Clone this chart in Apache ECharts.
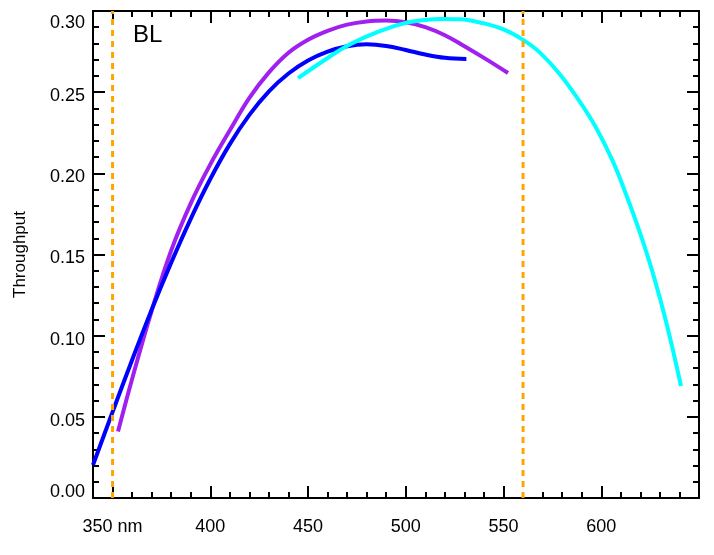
<!DOCTYPE html>
<html>
<head>
<meta charset="utf-8">
<script src="https://cdn.jsdelivr.net/npm/echarts@6/dist/echarts.min.js"></script>
<style>
html,body{margin:0;padding:0;background:#fff;}
#chart{width:714px;height:555px;}
</style>
</head>
<body>
<div id="chart"></div>
<script>
// wavelengths (nm) and throughputs
const blueX   = [340, 350, 360, 370, 380, 390, 400, 410, 420, 430, 440, 450, 460, 470, 480, 490, 500, 510, 520, 531];
const blueY   = [0.0203, 0.0530, 0.0850, 0.1160, 0.1450, 0.1720, 0.1965, 0.2180, 0.2360, 0.2505, 0.2615, 0.2695, 0.2750, 0.2783, 0.2795, 0.2785, 0.2760, 0.2732, 0.2712, 0.2705];
const purpleX = [352.8, 360, 370, 380, 390, 400, 410, 420, 430, 440, 450, 460, 470, 480, 490, 500, 510, 520, 530, 540, 552.3];
const purpleY = [0.0409, 0.0733, 0.1153, 0.1525, 0.1815, 0.2055, 0.2265, 0.2465, 0.2622, 0.2743, 0.2823, 0.2878, 0.2916, 0.2936, 0.2941, 0.2931, 0.2901, 0.2851, 0.2783, 0.2711, 0.2618];
const cyanX   = [444.9, 456, 467.9, 479.8, 491.8, 503.7, 517.3, 527.6, 539.5, 550.3, 560, 568.5, 578.7, 589, 597.5, 606, 612.8, 619.6, 626.4, 633.3, 640.8];
const cyanY   = [0.2586, 0.2678, 0.2771, 0.2842, 0.2898, 0.2935, 0.2951, 0.2949, 0.2925, 0.2885, 0.2822, 0.2745, 0.2612, 0.2442, 0.2278, 0.2072, 0.1867, 0.1641, 0.1385, 0.1080, 0.0690];
const limitLines = [350, 560];
const xMajorTicks = [350, 400, 450, 500, 550, 600];
const xTickLabels = ['350 nm', '400', '450', '500', '550', '600'];
const yTickLabels = ['0.00', '0.05', '0.10', '0.15', '0.20', '0.25', '0.30'];
const panelLabel = 'BL';
const yTitle = 'Throughput';

const FONT = "'Liberation Sans', Arial, Helvetica, sans-serif";
const X_MIN = 340, X_MAX = 650, Y_MIN = 0, Y_MAX = 0.30;

function zip(xs, ys) { return xs.map((x, i) => [x, ys[i]]); }

const black = { color: '#000', width: 2 };

function xAxisMajor(pos, showLabel) {
  return {
    type: 'value', position: pos, min: X_MIN, max: X_MAX, interval: 10,
    axisLine: { show: true, onZero: false, lineStyle: black },
    axisTick: { show: true, inside: true, length: 12, lineStyle: black, customValues: xMajorTicks },
    axisLabel: {
      show: showLabel, customValues: xMajorTicks, margin: 20,
      fontSize: 18, fontFamily: FONT, color: '#000',
      formatter: v => { const i = xMajorTicks.indexOf(Math.round(v)); return i >= 0 ? xTickLabels[i] : ''; }
    },
    splitLine: { show: false }
  };
}
function xAxisMinor(pos) {
  return {
    type: 'value', position: pos, min: X_MIN, max: X_MAX, interval: 10,
    axisLine: { show: false, onZero: false },
    axisTick: { show: true, inside: true, length: 6, lineStyle: black },
    axisLabel: { show: false },
    splitLine: { show: false }
  };
}
function yAxisDef(pos, showLabel) {
  const rs = { fontSize: 18, fontFamily: FONT, color: '#000' };
  return {
    type: 'value', position: pos, min: Y_MIN, max: Y_MAX, interval: 0.05,
    axisLine: { show: true, onZero: false, lineStyle: black },
    axisTick: { show: true, inside: true, length: 12, lineStyle: black },
    minorTick: { show: true, splitNumber: 5, length: 6, lineStyle: black },
    axisLabel: {
      show: showLabel, margin: 8, fontSize: 18, fontFamily: FONT, color: '#000',
      formatter: v => {
        const i = Math.round(v / 0.05);
        const s = yTickLabels[i];
        if (i === yTickLabels.length - 1) return '{t|' + s + '}';
        if (i === 0) return '{b|' + s + '}';
        return '{m|' + s + '}';
      },
      rich: {
        t: Object.assign({ padding: [24, 0, 0, 0] }, rs),
        b: Object.assign({ padding: [0, 0, 12, 0] }, rs),
        m: Object.assign({ padding: [8, 0, 0, 0] }, rs)
      }
    },
    splitLine: { show: false },
    minorSplitLine: { show: false }
  };
}

const chart = echarts.init(document.getElementById('chart'), null, { renderer: 'canvas' });

const curveSeries = (name, xs, ys, color, z) => ({
  name, type: 'line', xAxisIndex: 0, yAxisIndex: 0,
  data: zip(xs, ys), smooth: 0.4, showSymbol: false, symbol: 'none',
  lineStyle: { color, width: 4 }, z, silent: true, animation: false
});

const series = [
  curveSeries('purple', purpleX, purpleY, '#A020F0', 2),
  curveSeries('blue', blueX, blueY, '#0000FF', 3),
  curveSeries('cyan', cyanX, cyanY, '#00FFFF', 4)
];
limitLines.forEach((w, k) => {
  series.push({
    name: 'limit' + k, type: 'line', xAxisIndex: 0, yAxisIndex: 0,
    data: [[w, Y_MIN], [w, Y_MAX]], showSymbol: false, symbol: 'none',
    lineStyle: { color: '#FFA500', width: 3, type: [6, 5] }, z: 5, silent: true, animation: false
  });
});

const yAx = yAxisDef('left', true);
yAx.name = yTitle;
yAx.nameLocation = 'middle';
yAx.nameGap = 64;
yAx.nameTextStyle = { fontSize: 17, fontFamily: FONT, color: '#000' };

chart.setOption({
  backgroundColor: '#fff',
  animation: false,
  grid: { left: 93, right: 15, top: 11, bottom: 57, containLabel: false },
  xAxis: [xAxisMajor('bottom', true), xAxisMinor('bottom'), xAxisMajor('top', false), xAxisMinor('top')],
  yAxis: [yAx, yAxisDef('right', false)],
  graphic: [{
    type: 'text', left: 133, top: 23,
    style: { text: panelLabel, fontSize: 24, fontFamily: FONT, fill: '#000' }
  }],
  series
});
</script>
</body>
</html>
